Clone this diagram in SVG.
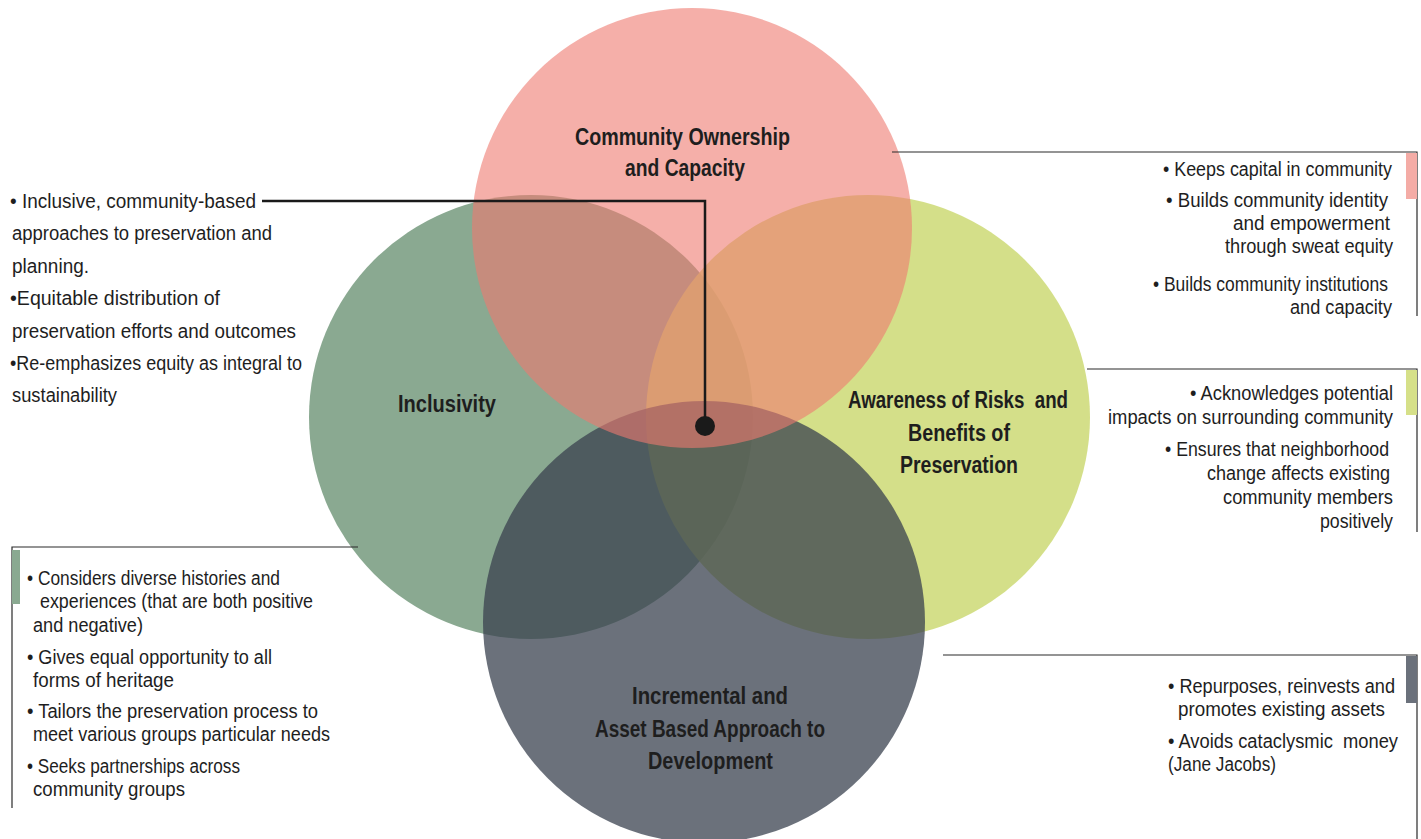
<svg xmlns="http://www.w3.org/2000/svg" width="1421" height="839" viewBox="0 0 1421 839">
<style>
.t{font-family:"Liberation Sans Narrow","Liberation Sans",Arial,sans-serif;font-size:20px;fill:#1e1e1e}
.h{font-family:"Liberation Sans Narrow","Liberation Sans",Arial,sans-serif;font-size:23px;font-weight:bold;fill:#1e1e1e}
.ln{fill:none;stroke:#2a2a2a;stroke-width:1.2}
</style>
<rect width="1421" height="839" fill="#ffffff"/>
<g id="circles">
<g id="inclusivity">
<circle cx="531" cy="417" r="222" fill="#8aa991"/>
<text class="h" x="398" y="412" textLength="98" lengthAdjust="spacingAndGlyphs">Inclusivity</text>
</g>
<g id="awareness">
<circle cx="868" cy="417" r="222" fill="#cbd86f" fill-opacity="0.82"/>
</g>
<g id="incremental">
<circle cx="704" cy="622" r="221" fill="#3a424f" fill-opacity="0.75"/>
</g>
<g id="community-ownership">
<circle cx="692" cy="228" r="220" fill="#ee7a70" fill-opacity="0.6"/>
</g>
</g>
<g id="titles">
<text class="h" x="575" y="145" textLength="215" lengthAdjust="spacingAndGlyphs">Community Ownership</text>
<text class="h" x="625" y="176" textLength="120" lengthAdjust="spacingAndGlyphs">and Capacity</text>
<text class="h" x="848" y="408" textLength="220" lengthAdjust="spacingAndGlyphs">Awareness of Risks&#160; and</text>
<text class="h" x="908" y="441" textLength="102" lengthAdjust="spacingAndGlyphs">Benefits of</text>
<text class="h" x="900" y="473" textLength="118" lengthAdjust="spacingAndGlyphs">Preservation</text>
<text class="h" x="632" y="704" textLength="156" lengthAdjust="spacingAndGlyphs">Incremental and</text>
<text class="h" x="595" y="737" textLength="230" lengthAdjust="spacingAndGlyphs">Asset Based Approach to</text>
<text class="h" x="648" y="769" textLength="125" lengthAdjust="spacingAndGlyphs">Development</text>
</g>
<g id="connectors">
<polyline class="ln" points="892,152 1417,152 1417,316"/>
<polyline class="ln" points="1087,369 1417,369 1417,532"/>
<polyline class="ln" points="943,655 1417,655 1417,839"/>
<polyline class="ln" points="358,547 12,547 12,808"/>
<polyline points="262,201 705,201 705,426" fill="none" stroke="#1a1a1a" stroke-width="2.5"/>
<circle cx="705" cy="426" r="10" fill="#1a1a1a"/>
</g>
<g id="bars">
<rect x="1406" y="153" width="11" height="46" fill="#f4aca6"/>
<rect x="1406" y="370" width="11" height="45" fill="#d6e089"/>
<rect x="1406" y="656" width="11" height="47" fill="#6b717b"/>
<rect x="12" y="550" width="8" height="54" fill="#8aa991"/>
</g>
<g id="text-inclusivity-top">
<text class="t" x="10" y="208" textLength="246" lengthAdjust="spacingAndGlyphs">• Inclusive, community-based</text>
<text class="t" x="12" y="240" textLength="260" lengthAdjust="spacingAndGlyphs">approaches to preservation and</text>
<text class="t" x="12" y="273" textLength="77" lengthAdjust="spacingAndGlyphs">planning.</text>
<text class="t" x="10" y="305" textLength="210" lengthAdjust="spacingAndGlyphs">•Equitable distribution of</text>
<text class="t" x="12" y="338" textLength="284" lengthAdjust="spacingAndGlyphs">preservation efforts and outcomes</text>
<text class="t" x="10" y="370" textLength="292" lengthAdjust="spacingAndGlyphs">•Re-emphasizes equity as integral to</text>
<text class="t" x="12" y="402" textLength="105" lengthAdjust="spacingAndGlyphs">sustainability</text>
</g>
<g id="text-community">
<text class="t" x="1163" y="176" textLength="229" lengthAdjust="spacingAndGlyphs">• Keeps capital in community</text>
<text class="t" x="1166" y="207" textLength="222" lengthAdjust="spacingAndGlyphs">• Builds community identity</text>
<text class="t" x="1233" y="230" textLength="157" lengthAdjust="spacingAndGlyphs">and empowerment</text>
<text class="t" x="1225" y="253" textLength="168" lengthAdjust="spacingAndGlyphs">through sweat equity</text>
<text class="t" x="1153" y="291" textLength="235" lengthAdjust="spacingAndGlyphs">• Builds community institutions</text>
<text class="t" x="1290" y="314" textLength="102" lengthAdjust="spacingAndGlyphs">and capacity</text>
</g>
<g id="text-awareness">
<text class="t" x="1190" y="400" textLength="203" lengthAdjust="spacingAndGlyphs">• Acknowledges potential</text>
<text class="t" x="1108" y="424" textLength="285" lengthAdjust="spacingAndGlyphs">impacts on surrounding community</text>
<text class="t" x="1165" y="456" textLength="224" lengthAdjust="spacingAndGlyphs">• Ensures that neighborhood</text>
<text class="t" x="1207" y="480" textLength="183" lengthAdjust="spacingAndGlyphs">change affects existing</text>
<text class="t" x="1223" y="504" textLength="170" lengthAdjust="spacingAndGlyphs">community members</text>
<text class="t" x="1320" y="528" textLength="73" lengthAdjust="spacingAndGlyphs">positively</text>
</g>
<g id="text-incremental">
<text class="t" x="1168" y="693" textLength="227" lengthAdjust="spacingAndGlyphs">• Repurposes, reinvests and</text>
<text class="t" x="1178" y="716" textLength="207" lengthAdjust="spacingAndGlyphs">promotes existing assets</text>
<text class="t" x="1168" y="748" textLength="230" lengthAdjust="spacingAndGlyphs">• Avoids cataclysmic&#160; money</text>
<text class="t" x="1168" y="771" textLength="108" lengthAdjust="spacingAndGlyphs">(Jane Jacobs)</text>
</g>
<g id="text-inclusivity-bottom">
<text class="t" x="27" y="585" textLength="253" lengthAdjust="spacingAndGlyphs">• Considers diverse histories and</text>
<text class="t" x="40" y="608" textLength="273" lengthAdjust="spacingAndGlyphs">experiences (that are both positive</text>
<text class="t" x="33" y="632" textLength="110" lengthAdjust="spacingAndGlyphs">and negative)</text>
<text class="t" x="27" y="664" textLength="245" lengthAdjust="spacingAndGlyphs">• Gives equal opportunity to all</text>
<text class="t" x="33" y="687" textLength="141" lengthAdjust="spacingAndGlyphs">forms of heritage</text>
<text class="t" x="27" y="718" textLength="291" lengthAdjust="spacingAndGlyphs">• Tailors the preservation process to</text>
<text class="t" x="33" y="741" textLength="297" lengthAdjust="spacingAndGlyphs">meet various groups particular needs</text>
<text class="t" x="27" y="773" textLength="213" lengthAdjust="spacingAndGlyphs">• Seeks partnerships across</text>
<text class="t" x="33" y="796" textLength="152" lengthAdjust="spacingAndGlyphs">community groups</text>
</g>
</svg>
